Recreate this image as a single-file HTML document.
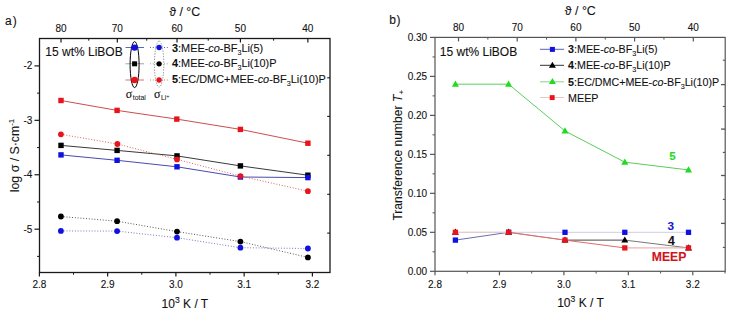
<!DOCTYPE html>
<html><head><meta charset="utf-8"><style>
html,body{margin:0;padding:0;background:#fff;width:732px;height:314px;overflow:hidden;}
svg{display:block;}
</style></head><body>
<svg width="732" height="314" viewBox="0 0 732 314">
<rect width="732" height="314" fill="#fff"/>
<line x1="39.40" y1="272.50" x2="39.40" y2="276.50" stroke="#1a1a1a" stroke-width="1.2" />
<text x="39.40" y="288.20" font-family='"Liberation Sans", sans-serif' font-size="10" fill="#111" stroke="#111" stroke-width="0.1" text-anchor="middle" >2.8</text>
<line x1="107.65" y1="272.50" x2="107.65" y2="276.50" stroke="#1a1a1a" stroke-width="1.2" />
<text x="107.65" y="288.20" font-family='"Liberation Sans", sans-serif' font-size="10" fill="#111" stroke="#111" stroke-width="0.1" text-anchor="middle" >2.9</text>
<line x1="175.90" y1="272.50" x2="175.90" y2="276.50" stroke="#1a1a1a" stroke-width="1.2" />
<text x="175.90" y="288.20" font-family='"Liberation Sans", sans-serif' font-size="10" fill="#111" stroke="#111" stroke-width="0.1" text-anchor="middle" >3.0</text>
<line x1="244.15" y1="272.50" x2="244.15" y2="276.50" stroke="#1a1a1a" stroke-width="1.2" />
<text x="244.15" y="288.20" font-family='"Liberation Sans", sans-serif' font-size="10" fill="#111" stroke="#111" stroke-width="0.1" text-anchor="middle" >3.1</text>
<line x1="312.40" y1="272.50" x2="312.40" y2="276.50" stroke="#1a1a1a" stroke-width="1.2" />
<text x="312.40" y="288.20" font-family='"Liberation Sans", sans-serif' font-size="10" fill="#111" stroke="#111" stroke-width="0.1" text-anchor="middle" >3.2</text>
<line x1="73.53" y1="272.50" x2="73.53" y2="274.70" stroke="#1a1a1a" stroke-width="1" />
<line x1="141.78" y1="272.50" x2="141.78" y2="274.70" stroke="#1a1a1a" stroke-width="1" />
<line x1="210.03" y1="272.50" x2="210.03" y2="274.70" stroke="#1a1a1a" stroke-width="1" />
<line x1="278.28" y1="272.50" x2="278.28" y2="274.70" stroke="#1a1a1a" stroke-width="1" />
<line x1="34.50" y1="65.90" x2="39.50" y2="65.90" stroke="#1a1a1a" stroke-width="1.2" />
<text x="32.30" y="69.30" font-family='"Liberation Sans", sans-serif' font-size="10" fill="#111" stroke="#111" stroke-width="0.1" text-anchor="end" >-2</text>
<line x1="34.50" y1="120.33" x2="39.50" y2="120.33" stroke="#1a1a1a" stroke-width="1.2" />
<text x="32.30" y="123.73" font-family='"Liberation Sans", sans-serif' font-size="10" fill="#111" stroke="#111" stroke-width="0.1" text-anchor="end" >-3</text>
<line x1="34.50" y1="174.76" x2="39.50" y2="174.76" stroke="#1a1a1a" stroke-width="1.2" />
<text x="32.30" y="178.16" font-family='"Liberation Sans", sans-serif' font-size="10" fill="#111" stroke="#111" stroke-width="0.1" text-anchor="end" >-4</text>
<line x1="34.50" y1="229.19" x2="39.50" y2="229.19" stroke="#1a1a1a" stroke-width="1.2" />
<text x="32.30" y="232.59" font-family='"Liberation Sans", sans-serif' font-size="10" fill="#111" stroke="#111" stroke-width="0.1" text-anchor="end" >-5</text>
<line x1="37.00" y1="93.12" x2="39.50" y2="93.12" stroke="#1a1a1a" stroke-width="1" />
<line x1="37.00" y1="147.55" x2="39.50" y2="147.55" stroke="#1a1a1a" stroke-width="1" />
<line x1="37.00" y1="201.97" x2="39.50" y2="201.97" stroke="#1a1a1a" stroke-width="1" />
<line x1="37.00" y1="256.40" x2="39.50" y2="256.40" stroke="#1a1a1a" stroke-width="1" />
<line x1="61.01" y1="38.50" x2="61.01" y2="42.50" stroke="#1a1a1a" stroke-width="1.2" />
<text x="61.01" y="32.00" font-family='"Liberation Sans", sans-serif' font-size="10" fill="#111" stroke="#111" stroke-width="0.1" text-anchor="middle" >80</text>
<line x1="117.33" y1="38.50" x2="117.33" y2="42.50" stroke="#1a1a1a" stroke-width="1.2" />
<text x="117.33" y="32.00" font-family='"Liberation Sans", sans-serif' font-size="10" fill="#111" stroke="#111" stroke-width="0.1" text-anchor="middle" >70</text>
<line x1="177.03" y1="38.50" x2="177.03" y2="42.50" stroke="#1a1a1a" stroke-width="1.2" />
<text x="177.03" y="32.00" font-family='"Liberation Sans", sans-serif' font-size="10" fill="#111" stroke="#111" stroke-width="0.1" text-anchor="middle" >60</text>
<line x1="240.42" y1="38.50" x2="240.42" y2="42.50" stroke="#1a1a1a" stroke-width="1.2" />
<text x="240.42" y="32.00" font-family='"Liberation Sans", sans-serif' font-size="10" fill="#111" stroke="#111" stroke-width="0.1" text-anchor="middle" >50</text>
<line x1="307.87" y1="38.50" x2="307.87" y2="42.50" stroke="#1a1a1a" stroke-width="1.2" />
<text x="307.87" y="32.00" font-family='"Liberation Sans", sans-serif' font-size="10" fill="#111" stroke="#111" stroke-width="0.1" text-anchor="middle" >40</text>
<line x1="88.76" y1="38.50" x2="88.76" y2="40.70" stroke="#1a1a1a" stroke-width="1" />
<line x1="146.74" y1="38.50" x2="146.74" y2="40.70" stroke="#1a1a1a" stroke-width="1" />
<line x1="208.24" y1="38.50" x2="208.24" y2="40.70" stroke="#1a1a1a" stroke-width="1" />
<line x1="273.61" y1="38.50" x2="273.61" y2="40.70" stroke="#1a1a1a" stroke-width="1" />
<line x1="327.20" y1="77.80" x2="330.00" y2="77.80" stroke="#1a1a1a" stroke-width="1.1" />
<line x1="327.20" y1="116.40" x2="330.00" y2="116.40" stroke="#1a1a1a" stroke-width="1.1" />
<line x1="327.20" y1="155.30" x2="330.00" y2="155.30" stroke="#1a1a1a" stroke-width="1.1" />
<line x1="327.20" y1="194.30" x2="330.00" y2="194.30" stroke="#1a1a1a" stroke-width="1.1" />
<line x1="327.20" y1="233.10" x2="330.00" y2="233.10" stroke="#1a1a1a" stroke-width="1.1" />
<rect x="39.5" y="38.5" width="290.5" height="234.0" fill="none" stroke="#1a1a1a" stroke-width="1.3"/>
<text x="169.20" y="16.00" font-family='"Liberation Sans", sans-serif' font-size="12.4" fill="#111" stroke="#111" stroke-width="0.1" text-anchor="start" >ϑ / °C</text>
<text x="5.00" y="25.00" font-family='"Liberation Sans", sans-serif' font-size="12" fill="#111" stroke="#111" stroke-width="0.1" text-anchor="start" >a<tspan dx="1">)</tspan></text>
<text x="161.60" y="308.20" font-family='"Liberation Sans", sans-serif' font-size="12.0" fill="#111" stroke="#111" stroke-width="0.1" text-anchor="start" >10<tspan font-size="8.6" dy="-4.8">3</tspan><tspan dy="4.8"> K / T</tspan></text>
<text transform="translate(18.6,192.2) rotate(-90)" font-family='"Liberation Sans", sans-serif' font-size="12.3" fill="#151515" stroke="#151515" stroke-width="0.08">log σ / S·cm<tspan font-size="8" dy="-4.5">-1</tspan></text>
<text x="45.30" y="55.80" font-family='"Liberation Sans", sans-serif' font-size="12.0" fill="#111" stroke="#111" stroke-width="0.1" text-anchor="start" >15 wt% LiBOB</text>
<polyline points="61,145.4 117.1,150.4 177,155.9 240.4,165.9 307.9,175.2" fill="none" stroke="#222" stroke-width="0.9" />
<polyline points="61,154.9 117.1,160.3 177,166.8 240.4,177 307.9,177.6" fill="none" stroke="#3535a5" stroke-width="0.9" />
<polyline points="61,100.5 117.1,110.4 176.8,119.1 240.4,129.4 307.9,143.2" fill="none" stroke="#c43a3a" stroke-width="0.9" />
<polyline points="60.9,216.5 117.1,221.2 177,231.6 240.4,241.6 307.9,257.4" fill="none" stroke="#444" stroke-width="0.9" stroke-dasharray="1 1.8"/>
<polyline points="60.9,230.9 117.1,231.1 177,237.7 240.4,247.7 307.9,248.5" fill="none" stroke="#6a6ab8" stroke-width="0.9" stroke-dasharray="1 1.8"/>
<polyline points="60.9,134.3 117.4,144 177,159.4 240.4,176.1 307.9,191.2" fill="none" stroke="#d85050" stroke-width="0.9" stroke-dasharray="1 1.8"/>
<rect x="58.30" y="142.70" width="5.4" height="5.4" fill="#000"/>
<rect x="114.40" y="147.70" width="5.4" height="5.4" fill="#000"/>
<rect x="174.30" y="153.20" width="5.4" height="5.4" fill="#000"/>
<rect x="237.70" y="163.20" width="5.4" height="5.4" fill="#000"/>
<rect x="305.20" y="172.50" width="5.4" height="5.4" fill="#000"/>
<rect x="58.30" y="152.20" width="5.4" height="5.4" fill="#1010e0"/>
<rect x="114.40" y="157.60" width="5.4" height="5.4" fill="#1010e0"/>
<rect x="174.30" y="164.10" width="5.4" height="5.4" fill="#1010e0"/>
<rect x="237.70" y="174.30" width="5.4" height="5.4" fill="#1010e0"/>
<rect x="305.20" y="174.90" width="5.4" height="5.4" fill="#1010e0"/>
<rect x="58.30" y="97.80" width="5.4" height="5.4" fill="#e8131b"/>
<rect x="114.40" y="107.70" width="5.4" height="5.4" fill="#e8131b"/>
<rect x="174.10" y="116.40" width="5.4" height="5.4" fill="#e8131b"/>
<rect x="237.70" y="126.70" width="5.4" height="5.4" fill="#e8131b"/>
<rect x="305.20" y="140.50" width="5.4" height="5.4" fill="#e8131b"/>
<circle cx="60.9" cy="216.5" r="2.9" fill="#000"/>
<circle cx="117.1" cy="221.2" r="2.9" fill="#000"/>
<circle cx="177" cy="231.6" r="2.9" fill="#000"/>
<circle cx="240.4" cy="241.6" r="2.9" fill="#000"/>
<circle cx="307.9" cy="257.4" r="2.9" fill="#000"/>
<circle cx="60.9" cy="230.9" r="2.9" fill="#1010e0"/>
<circle cx="117.1" cy="231.1" r="2.9" fill="#1010e0"/>
<circle cx="177" cy="237.7" r="2.9" fill="#1010e0"/>
<circle cx="240.4" cy="247.7" r="2.9" fill="#1010e0"/>
<circle cx="307.9" cy="248.5" r="2.9" fill="#1010e0"/>
<circle cx="60.9" cy="134.3" r="2.9" fill="#e8131b"/>
<circle cx="117.4" cy="144" r="2.9" fill="#e8131b"/>
<circle cx="177" cy="159.4" r="2.9" fill="#e8131b"/>
<circle cx="240.4" cy="176.1" r="2.9" fill="#e8131b"/>
<circle cx="307.9" cy="191.2" r="2.9" fill="#e8131b"/>
<line x1="125.50" y1="47.50" x2="144.00" y2="47.50" stroke="#4a55c0" stroke-width="0.9" />
<line x1="150.00" y1="47.50" x2="168.00" y2="47.50" stroke="#4a55c0" stroke-width="0.9" stroke-dasharray="1 1.8"/>
<line x1="125.50" y1="63.80" x2="144.00" y2="63.80" stroke="#999" stroke-width="0.9" />
<line x1="150.00" y1="63.80" x2="168.00" y2="63.80" stroke="#999" stroke-width="0.9" stroke-dasharray="1 1.8"/>
<line x1="125.50" y1="80.00" x2="144.00" y2="80.00" stroke="#e06060" stroke-width="0.9" />
<line x1="150.00" y1="80.00" x2="168.00" y2="80.00" stroke="#e06060" stroke-width="0.9" stroke-dasharray="1 1.8"/>
<circle cx="159.1" cy="47.5" r="2.65" fill="#1010e0"/>
<circle cx="159.1" cy="63.8" r="2.65" fill="#000"/>
<circle cx="159.1" cy="80.0" r="2.65" fill="#e8131b"/>
<ellipse cx="134.6" cy="64.6" rx="4.5" ry="23" fill="none" stroke="#000" stroke-width="1.0"/>
<circle cx="134.6" cy="47.6" r="3.2" fill="#1010e0"/>
<rect x="132.10" y="61.30" width="5.0" height="5.0" fill="#000"/>
<circle cx="134.6" cy="80.0" r="3.3" fill="#e8131b"/>
<ellipse cx="159.1" cy="64.0" rx="4.7" ry="23" fill="none" stroke="#666" stroke-width="0.8" stroke-dasharray="1.2 1.4"/>
<text x="172.00" y="52.00" font-family='"Liberation Sans", sans-serif' font-size="10.9" fill="#111" stroke="#111" stroke-width="0.1" text-anchor="start" ><tspan font-weight="bold">3</tspan>:MEE-<tspan font-style="italic">co</tspan>-BF<tspan font-size="7.2" dy="3">3</tspan><tspan dy="-3">Li(5)</tspan></text>
<text x="172.00" y="67.40" font-family='"Liberation Sans", sans-serif' font-size="10.9" fill="#111" stroke="#111" stroke-width="0.1" text-anchor="start" ><tspan font-weight="bold">4</tspan>:MEE-<tspan font-style="italic">co</tspan>-BF<tspan font-size="7.2" dy="3">3</tspan><tspan dy="-3">Li(10)P</tspan></text>
<text x="172.00" y="83.20" font-family='"Liberation Sans", sans-serif' font-size="10.9" fill="#111" stroke="#111" stroke-width="0.1" text-anchor="start" ><tspan font-weight="bold">5</tspan>:EC/DMC+MEE-<tspan font-style="italic">co</tspan>-BF<tspan font-size="7.2" dy="3">3</tspan><tspan dy="-3">Li(10)P</tspan></text>
<text x="125.80" y="97.80" font-family='"Liberation Serif", serif' font-size="12" fill="#111" stroke="#111" stroke-width="0.12" text-anchor="start" >σ<tspan font-weight="normal" stroke-width="0.05" font-family='Liberation Sans' font-size="6.9" dy="2.6" dx="0.5">total</tspan></text>
<text x="154.00" y="97.80" font-family='"Liberation Serif", serif' font-size="12" fill="#111" stroke="#111" stroke-width="0.12" text-anchor="start" >σ<tspan font-weight="normal" stroke-width="0.05" font-family='Liberation Sans' font-size="6.9" dy="2.6" dx="0.5">Li</tspan><tspan font-weight="normal" stroke-width="0" font-family='Liberation Sans' font-size="5.5" dy="-2.5">+</tspan></text>
<line x1="435.00" y1="271.30" x2="435.00" y2="275.30" stroke="#555" stroke-width="1.2" />
<text x="435.00" y="287.60" font-family='"Liberation Sans", sans-serif' font-size="10" fill="#111" stroke="#111" stroke-width="0.1" text-anchor="middle" >2.8</text>
<line x1="499.45" y1="271.30" x2="499.45" y2="275.30" stroke="#555" stroke-width="1.2" />
<text x="499.45" y="287.60" font-family='"Liberation Sans", sans-serif' font-size="10" fill="#111" stroke="#111" stroke-width="0.1" text-anchor="middle" >2.9</text>
<line x1="563.90" y1="271.30" x2="563.90" y2="275.30" stroke="#555" stroke-width="1.2" />
<text x="563.90" y="287.60" font-family='"Liberation Sans", sans-serif' font-size="10" fill="#111" stroke="#111" stroke-width="0.1" text-anchor="middle" >3.0</text>
<line x1="628.35" y1="271.30" x2="628.35" y2="275.30" stroke="#555" stroke-width="1.2" />
<text x="628.35" y="287.60" font-family='"Liberation Sans", sans-serif' font-size="10" fill="#111" stroke="#111" stroke-width="0.1" text-anchor="middle" >3.1</text>
<line x1="692.80" y1="271.30" x2="692.80" y2="275.30" stroke="#555" stroke-width="1.2" />
<text x="692.80" y="287.60" font-family='"Liberation Sans", sans-serif' font-size="10" fill="#111" stroke="#111" stroke-width="0.1" text-anchor="middle" >3.2</text>
<line x1="467.23" y1="271.30" x2="467.23" y2="273.50" stroke="#555" stroke-width="1" />
<line x1="531.68" y1="271.30" x2="531.68" y2="273.50" stroke="#555" stroke-width="1" />
<line x1="596.12" y1="271.30" x2="596.12" y2="273.50" stroke="#555" stroke-width="1" />
<line x1="660.58" y1="271.30" x2="660.58" y2="273.50" stroke="#555" stroke-width="1" />
<line x1="725.03" y1="271.30" x2="725.03" y2="273.50" stroke="#555" stroke-width="1" />
<line x1="430.00" y1="271.30" x2="435.00" y2="271.30" stroke="#555" stroke-width="1.2" />
<text x="427.20" y="274.60" font-family='"Liberation Sans", sans-serif' font-size="10" fill="#111" stroke="#111" stroke-width="0.1" text-anchor="end" >0.00</text>
<line x1="430.00" y1="232.32" x2="435.00" y2="232.32" stroke="#555" stroke-width="1.2" />
<text x="427.20" y="235.62" font-family='"Liberation Sans", sans-serif' font-size="10" fill="#111" stroke="#111" stroke-width="0.1" text-anchor="end" >0.05</text>
<line x1="430.00" y1="193.34" x2="435.00" y2="193.34" stroke="#555" stroke-width="1.2" />
<text x="427.20" y="196.64" font-family='"Liberation Sans", sans-serif' font-size="10" fill="#111" stroke="#111" stroke-width="0.1" text-anchor="end" >0.10</text>
<line x1="430.00" y1="154.36" x2="435.00" y2="154.36" stroke="#555" stroke-width="1.2" />
<text x="427.20" y="157.66" font-family='"Liberation Sans", sans-serif' font-size="10" fill="#111" stroke="#111" stroke-width="0.1" text-anchor="end" >0.15</text>
<line x1="430.00" y1="115.38" x2="435.00" y2="115.38" stroke="#555" stroke-width="1.2" />
<text x="427.20" y="118.68" font-family='"Liberation Sans", sans-serif' font-size="10" fill="#111" stroke="#111" stroke-width="0.1" text-anchor="end" >0.20</text>
<line x1="430.00" y1="76.40" x2="435.00" y2="76.40" stroke="#555" stroke-width="1.2" />
<text x="427.20" y="79.70" font-family='"Liberation Sans", sans-serif' font-size="10" fill="#111" stroke="#111" stroke-width="0.1" text-anchor="end" >0.25</text>
<line x1="430.00" y1="37.42" x2="435.00" y2="37.42" stroke="#555" stroke-width="1.2" />
<text x="427.20" y="40.72" font-family='"Liberation Sans", sans-serif' font-size="10" fill="#111" stroke="#111" stroke-width="0.1" text-anchor="end" >0.30</text>
<line x1="432.50" y1="251.81" x2="435.00" y2="251.81" stroke="#555" stroke-width="1" />
<line x1="432.50" y1="212.83" x2="435.00" y2="212.83" stroke="#555" stroke-width="1" />
<line x1="432.50" y1="173.85" x2="435.00" y2="173.85" stroke="#555" stroke-width="1" />
<line x1="432.50" y1="134.87" x2="435.00" y2="134.87" stroke="#555" stroke-width="1" />
<line x1="432.50" y1="95.89" x2="435.00" y2="95.89" stroke="#555" stroke-width="1" />
<line x1="432.50" y1="56.91" x2="435.00" y2="56.91" stroke="#555" stroke-width="1" />
<line x1="458.50" y1="37.40" x2="458.50" y2="41.40" stroke="#555" stroke-width="1.2" />
<text x="458.50" y="31.20" font-family='"Liberation Sans", sans-serif' font-size="10" fill="#111" stroke="#111" stroke-width="0.1" text-anchor="middle" >80</text>
<line x1="517.20" y1="37.40" x2="517.20" y2="41.40" stroke="#555" stroke-width="1.2" />
<text x="517.20" y="31.20" font-family='"Liberation Sans", sans-serif' font-size="10" fill="#111" stroke="#111" stroke-width="0.1" text-anchor="middle" >70</text>
<line x1="575.90" y1="37.40" x2="575.90" y2="41.40" stroke="#555" stroke-width="1.2" />
<text x="575.90" y="31.20" font-family='"Liberation Sans", sans-serif' font-size="10" fill="#111" stroke="#111" stroke-width="0.1" text-anchor="middle" >60</text>
<line x1="634.60" y1="37.40" x2="634.60" y2="41.40" stroke="#555" stroke-width="1.2" />
<text x="634.60" y="31.20" font-family='"Liberation Sans", sans-serif' font-size="10" fill="#111" stroke="#111" stroke-width="0.1" text-anchor="middle" >50</text>
<line x1="693.30" y1="37.40" x2="693.30" y2="41.40" stroke="#555" stroke-width="1.2" />
<text x="693.30" y="31.20" font-family='"Liberation Sans", sans-serif' font-size="10" fill="#111" stroke="#111" stroke-width="0.1" text-anchor="middle" >40</text>
<line x1="487.85" y1="37.40" x2="487.85" y2="39.60" stroke="#555" stroke-width="1" />
<line x1="546.55" y1="37.40" x2="546.55" y2="39.60" stroke="#555" stroke-width="1" />
<line x1="605.25" y1="37.40" x2="605.25" y2="39.60" stroke="#555" stroke-width="1" />
<line x1="663.95" y1="37.40" x2="663.95" y2="39.60" stroke="#555" stroke-width="1" />
<line x1="721.00" y1="84.60" x2="725.20" y2="84.60" stroke="#555" stroke-width="1.3" />
<line x1="721.00" y1="129.10" x2="725.20" y2="129.10" stroke="#555" stroke-width="1.3" />
<line x1="721.00" y1="175.50" x2="725.20" y2="175.50" stroke="#555" stroke-width="1.3" />
<line x1="721.00" y1="223.40" x2="725.20" y2="223.40" stroke="#555" stroke-width="1.3" />
<line x1="722.80" y1="60.20" x2="725.20" y2="60.20" stroke="#555" stroke-width="1.1" />
<line x1="722.80" y1="106.50" x2="725.20" y2="106.50" stroke="#555" stroke-width="1.1" />
<line x1="722.80" y1="152.40" x2="725.20" y2="152.40" stroke="#555" stroke-width="1.1" />
<line x1="722.80" y1="199.40" x2="725.20" y2="199.40" stroke="#555" stroke-width="1.1" />
<line x1="722.80" y1="247.40" x2="725.20" y2="247.40" stroke="#555" stroke-width="1.1" />
<rect x="435.0" y="37.4" width="290.20000000000005" height="233.9" fill="none" stroke="#555" stroke-width="1.2"/>
<text x="564.80" y="15.00" font-family='"Liberation Sans", sans-serif' font-size="12.4" fill="#111" stroke="#111" stroke-width="0.1" text-anchor="start" >ϑ / °C</text>
<text x="389.20" y="24.40" font-family='"Liberation Sans", sans-serif' font-size="12" fill="#111" stroke="#111" stroke-width="0.1" text-anchor="start" >b<tspan dx="0.6">)</tspan></text>
<text x="557.20" y="307.00" font-family='"Liberation Sans", sans-serif' font-size="12.0" fill="#111" stroke="#111" stroke-width="0.1" text-anchor="start" >10<tspan font-size="8.6" dy="-4.8">3</tspan><tspan dy="4.8"> K / T</tspan></text>
<text transform="translate(401.5,220.6) rotate(-90)" font-family='"Liberation Sans", sans-serif' font-size="12.1" fill="#151515" stroke="#151515" stroke-width="0.08">Transference number <tspan font-style="italic">T</tspan><tspan font-size="8" dy="2.5" dx="0.3">+</tspan></text>
<text x="439.80" y="55.80" font-family='"Liberation Sans", sans-serif' font-size="12.0" fill="#111" stroke="#111" stroke-width="0.1" text-anchor="start" >15 wt% LiBOB</text>
<line x1="455.40" y1="84.20" x2="508.60" y2="84.20" stroke="#5ccc5c" stroke-width="1.0" />
<line x1="508.60" y1="84.20" x2="565.00" y2="130.97" stroke="#5ccc5c" stroke-width="1.0" />
<line x1="565.00" y1="130.97" x2="624.80" y2="162.16" stroke="#5ccc5c" stroke-width="1.0" />
<line x1="624.80" y1="162.16" x2="688.50" y2="169.95" stroke="#5ccc5c" stroke-width="1.0" />
<line x1="455.40" y1="240.12" x2="508.60" y2="232.32" stroke="#5560a8" stroke-width="0.9" />
<line x1="508.60" y1="232.32" x2="565.00" y2="232.32" stroke="#c8cade" stroke-width="0.9" />
<line x1="565.00" y1="232.32" x2="624.80" y2="232.32" stroke="#c8cade" stroke-width="0.9" />
<line x1="624.80" y1="232.32" x2="688.50" y2="232.32" stroke="#c8cade" stroke-width="0.9" />
<line x1="455.40" y1="232.32" x2="508.60" y2="232.32" stroke="#bbbbbb" stroke-width="0.9" />
<line x1="508.60" y1="232.32" x2="565.00" y2="240.12" stroke="#999999" stroke-width="0.9" />
<line x1="565.00" y1="240.12" x2="624.80" y2="240.12" stroke="#333333" stroke-width="0.9" />
<line x1="624.80" y1="240.12" x2="688.50" y2="247.91" stroke="#6a6a6a" stroke-width="0.9" />
<line x1="455.40" y1="232.32" x2="508.60" y2="232.32" stroke="#f0caca" stroke-width="1.0" />
<line x1="508.60" y1="232.32" x2="565.00" y2="240.12" stroke="#e06a6a" stroke-width="1.0" />
<line x1="565.00" y1="240.12" x2="624.80" y2="247.91" stroke="#e06a6a" stroke-width="1.0" />
<line x1="624.80" y1="247.91" x2="688.50" y2="247.91" stroke="#eaa0a0" stroke-width="1.0" />
<polygon points="451.90,86.70 458.90,86.70 455.40,80.50" fill="#1edc1e"/>
<polygon points="505.10,86.70 512.10,86.70 508.60,80.50" fill="#1edc1e"/>
<polygon points="561.50,133.47 568.50,133.47 565.00,127.27" fill="#1edc1e"/>
<polygon points="621.30,164.66 628.30,164.66 624.80,158.46" fill="#1edc1e"/>
<polygon points="685.00,172.45 692.00,172.45 688.50,166.25" fill="#1edc1e"/>
<polygon points="451.90,234.82 458.90,234.82 455.40,228.62" fill="#000"/>
<polygon points="505.10,234.82 512.10,234.82 508.60,228.62" fill="#000"/>
<polygon points="561.50,242.62 568.50,242.62 565.00,236.42" fill="#000"/>
<polygon points="621.30,242.62 628.30,242.62 624.80,236.42" fill="#000"/>
<polygon points="685.00,250.41 692.00,250.41 688.50,244.21" fill="#000"/>
<rect x="452.75" y="237.47" width="5.3" height="5.3" fill="#1010e0"/>
<rect x="505.95" y="229.67" width="5.3" height="5.3" fill="#1010e0"/>
<rect x="562.35" y="229.67" width="5.3" height="5.3" fill="#1010e0"/>
<rect x="622.15" y="229.67" width="5.3" height="5.3" fill="#1010e0"/>
<rect x="685.85" y="229.67" width="5.3" height="5.3" fill="#1010e0"/>
<rect x="452.75" y="229.67" width="5.3" height="5.3" fill="#e8131b"/>
<rect x="505.95" y="229.67" width="5.3" height="5.3" fill="#e8131b"/>
<rect x="562.35" y="237.47" width="5.3" height="5.3" fill="#e8131b"/>
<rect x="622.15" y="245.26" width="5.3" height="5.3" fill="#e8131b"/>
<rect x="685.85" y="245.26" width="5.3" height="5.3" fill="#e8131b"/>
<text x="672.50" y="160.40" font-family='"Liberation Sans", sans-serif' font-size="11.5" fill="#1edc1e" stroke="#1edc1e" stroke-width="0.1" text-anchor="middle" font-weight="bold">5</text>
<text x="670.90" y="230.10" font-family='"Liberation Sans", sans-serif' font-size="11.8" fill="#1a1ad0" stroke="#1a1ad0" stroke-width="0.1" text-anchor="middle" font-weight="bold">3</text>
<text x="671.30" y="244.50" font-family='"Liberation Sans", sans-serif' font-size="12.2" fill="#111" stroke="#111" stroke-width="0.1" text-anchor="middle" font-weight="bold">4</text>
<text x="669.10" y="261.00" font-family='"Liberation Sans", sans-serif' font-size="12.2" fill="#d0141c" stroke="#d0141c" stroke-width="0.1" text-anchor="middle" font-weight="bold">MEEP</text>
<line x1="540.00" y1="49.30" x2="564.00" y2="49.30" stroke="#5560c0" stroke-width="1" />
<line x1="540.00" y1="65.30" x2="564.00" y2="65.30" stroke="#333" stroke-width="1" />
<line x1="540.00" y1="81.80" x2="564.00" y2="81.80" stroke="#8fcf8f" stroke-width="1" />
<line x1="540.00" y1="97.50" x2="564.00" y2="97.50" stroke="#ecc4c4" stroke-width="1" />
<rect x="549.90" y="46.90" width="5" height="5" fill="#1010e0"/>
<polygon points="548.90,67.80 555.90,67.80 552.40,61.80" fill="#000"/>
<polygon points="548.90,83.90 555.90,83.90 552.40,78.10" fill="#1edc1e"/>
<rect x="549.75" y="95.15" width="4.9" height="4.9" fill="#e8131b"/>
<text x="568.10" y="52.60" font-family='"Liberation Sans", sans-serif' font-size="10.7" fill="#111" stroke="#111" stroke-width="0.1" text-anchor="start" ><tspan font-weight="bold">3</tspan>:MEE-<tspan font-style="italic">co</tspan>-BF<tspan font-size="7.2" dy="3">3</tspan><tspan dy="-3">Li(5)</tspan></text>
<text x="568.10" y="69.20" font-family='"Liberation Sans", sans-serif' font-size="10.7" fill="#111" stroke="#111" stroke-width="0.1" text-anchor="start" ><tspan font-weight="bold">4</tspan>:MEE-<tspan font-style="italic">co</tspan>-BF<tspan font-size="7.2" dy="3">3</tspan><tspan dy="-3">Li(10)P</tspan></text>
<text x="568.10" y="85.80" font-family='"Liberation Sans", sans-serif' font-size="10.7" fill="#111" stroke="#111" stroke-width="0.1" text-anchor="start" ><tspan font-weight="bold">5</tspan>:EC/DMC+MEE-<tspan font-style="italic">co</tspan>-BF<tspan font-size="7.2" dy="3">3</tspan><tspan dy="-3">Li(10)P</tspan></text>
<text x="568.10" y="101.90" font-family='"Liberation Sans", sans-serif' font-size="10.7" fill="#111" stroke="#111" stroke-width="0.1" text-anchor="start" >MEEP</text>
</svg>
</body></html>
